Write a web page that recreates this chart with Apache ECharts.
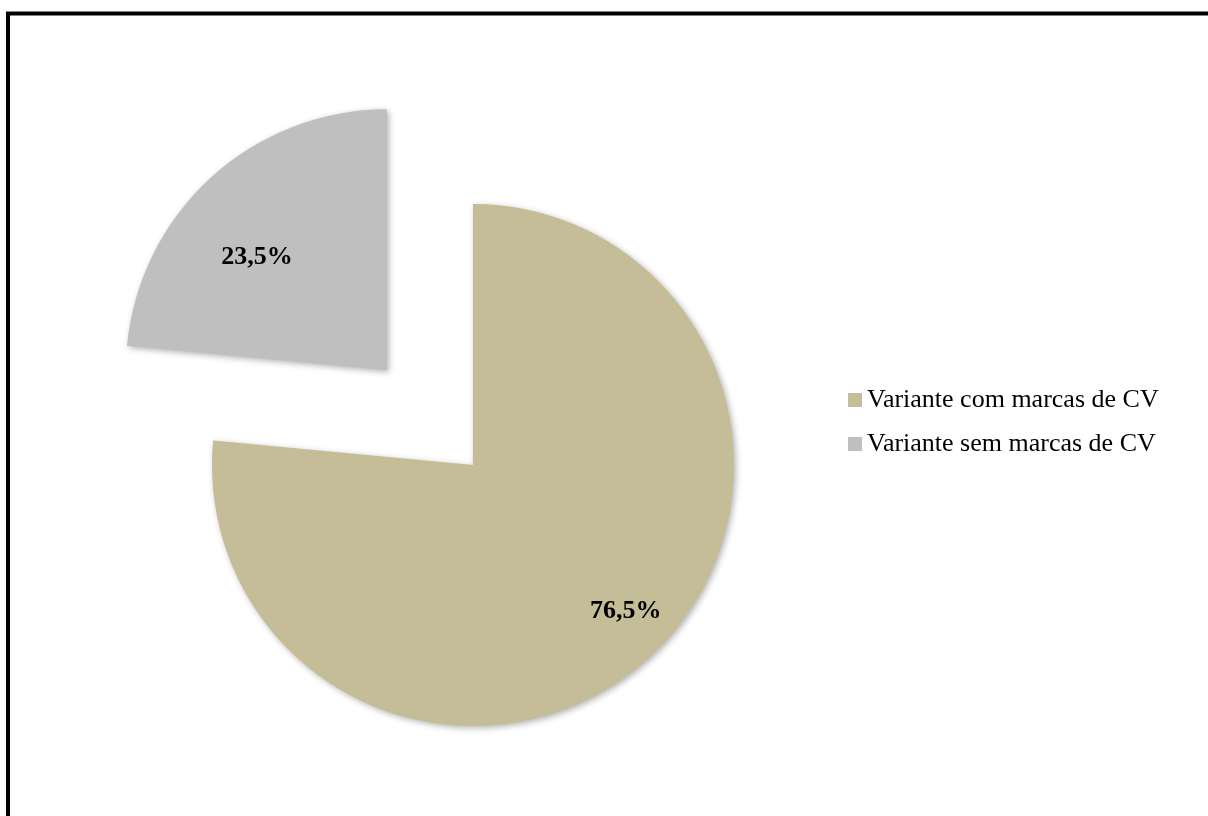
<!DOCTYPE html>
<html>
<head>
<meta charset="utf-8">
<script src="https://cdn.jsdelivr.net/npm/echarts@6/dist/echarts.min.js"></script>
<style>
  html, body { margin: 0; padding: 0; background: #fff; }
  #main { width: 1208px; height: 816px; }
</style>
</head>
<body>
<div id="main"></div>
<script>
// categorias e valores (%)
var categories = ["Variante com marcas de CV", "Variante sem marcas de CV"];
var values = [76.5, 23.5];
var colors = ["#C4BD97", "#BFBFBF"];

var chart = echarts.init(document.getElementById("main"));

// montar dados do pie; a fatia cinzenta fica destacada
var pieData = categories.map(function (name, i) {
  return {
    name: name,
    value: values[i],
    selected: i === 1,
    itemStyle: { color: colors[i] }
  };
});

var option = {
  animation: false,
  backgroundColor: "#fff",
  // moldura preta (só topo e esquerda visíveis)
  graphic: [
    {
      type: "rect",
      shape: { x: 8, y: 13.5, width: 1400, height: 1000 },
      style: { fill: "none", stroke: "#000", lineWidth: 4 },
      silent: true
    }
  ],
  legend: {
    orient: "vertical",
    left: 843,
    top: 382,
    itemWidth: 14,
    itemHeight: 14,
    itemGap: 18,
    icon: "rect",
    selectedMode: false,
    textStyle: {
      fontFamily: "Liberation Serif",
      fontSize: 26,
      color: "#000"
    },
    data: categories
  },
  series: [
    {
      type: "pie",
      center: [473, 465],
      radius: 261,
      startAngle: 90,
      clockwise: true,
      selectedMode: "single",
      selectedOffset: 128,
      itemStyle: {
        shadowBlur: 6,
        shadowOffsetX: 2,
        shadowOffsetY: 2,
        shadowColor: "rgba(0,0,0,0.3)"
      },
      label: {
        show: true,
        position: "inside",
        fontFamily: "Liberation Serif",
        fontWeight: "bold",
        fontSize: 26,
        color: "#000",
        formatter: function (p) {
          return p.value.toFixed(1).replace(".", ",") + "%";
        }
      },
      labelLine: { show: false },
      emphasis: { disabled: true },
      labelLayout: function (params) {
        // deslocar os rótulos como no original
        return params.dataIndex === 0 ? { dx: 63, dy: 48 } : { dx: -40, dy: -14 };
      },
      data: pieData
    }
  ]
};

chart.setOption(option);
</script>
</body>
</html>
